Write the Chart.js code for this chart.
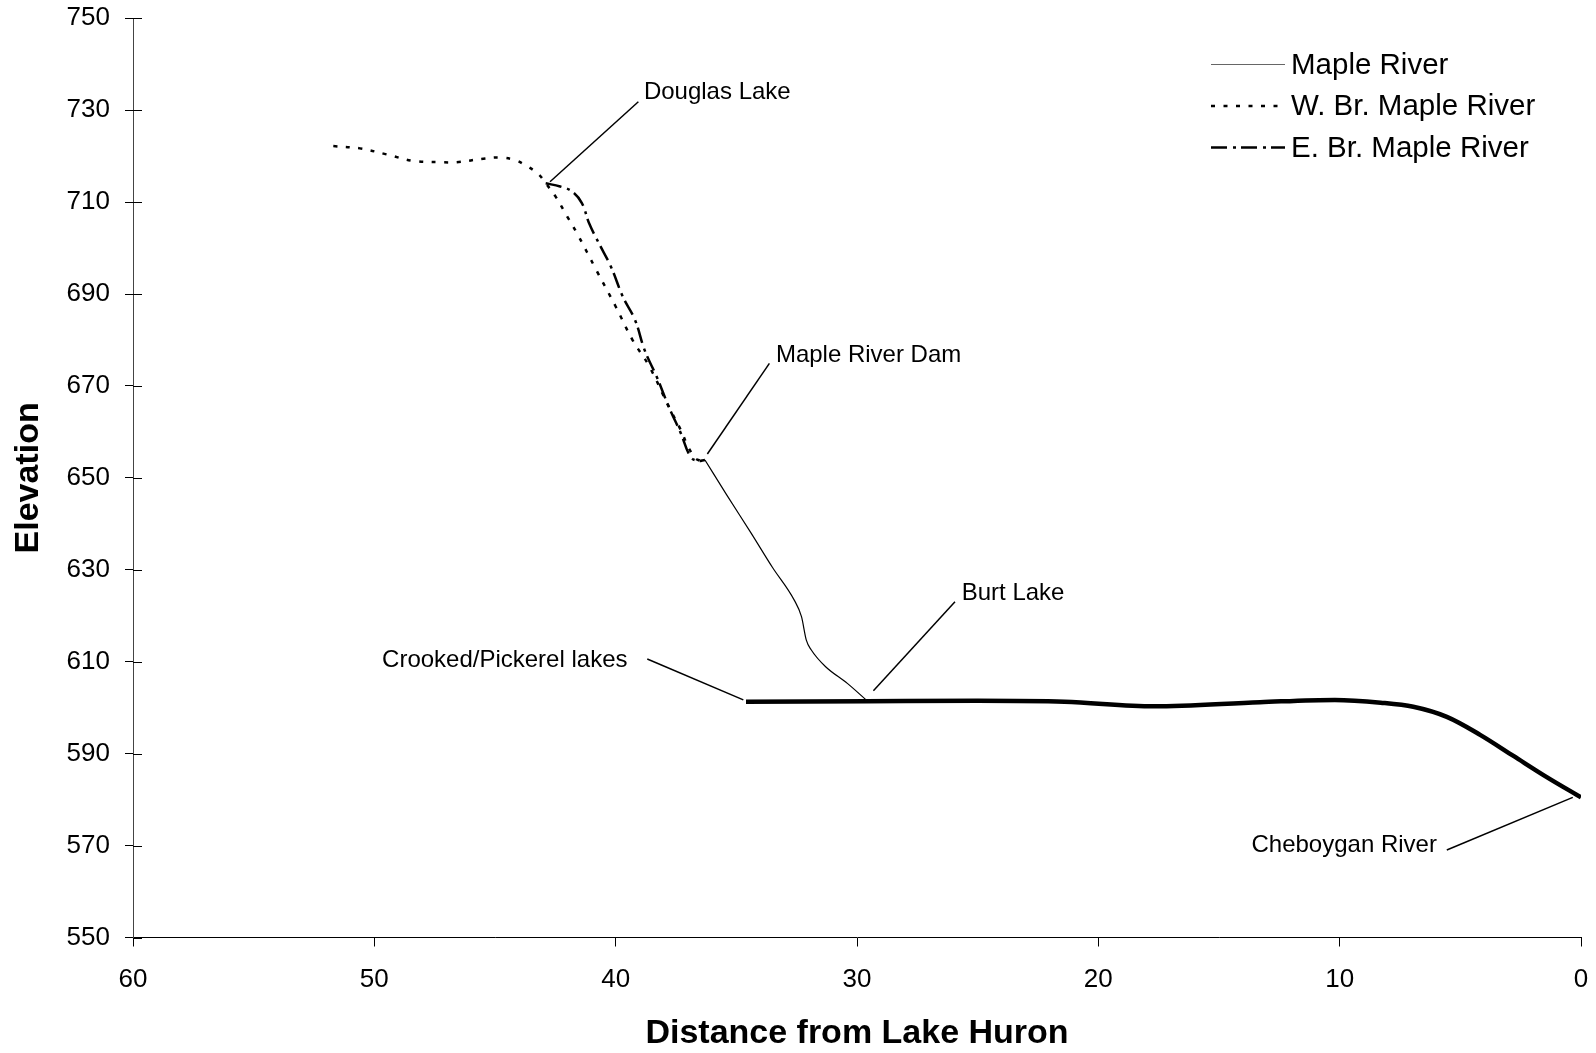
<!DOCTYPE html>
<html>
<head>
<meta charset="utf-8">
<script src="https://cdn.jsdelivr.net/npm/chart.js@4/dist/chart.umd.min.js"></script>
<style>
  body { margin: 0; background: #fff; }
  #wrap { width: 1596px; height: 1053px; }
</style>
</head>
<body>
<div id="wrap"><canvas id="profile" width="1596" height="1053"></canvas></div>
<script>
// distance from Lake Huron (miles) and elevation (ft)
const wBranchMiles = [51.7, 50.6, 49.5, 48.4, 47.3, 46.6, 45.4, 44.8, 44.2, 43.7, 43.2, 42.9, 42.5, 42.0, 41.6, 40.8, 40.0, 39.3, 38.6, 37.8, 37.3, 37.0, 36.7, 36.5];
const wBranchElev  = [722.2, 721.7, 720.4, 719.0, 718.7, 718.7, 719.5, 719.7, 719.2, 717.9, 716.1, 714.1, 711.3, 706.8, 703.2, 695.2, 687.3, 680.0, 674.2, 665.5, 660.4, 656.8, 654.3, 653.7];

const eBranchMiles = [42.9, 42.3, 41.8, 41.4, 41.1, 40.7, 40.2, 39.7, 39.2, 38.8, 38.3, 37.8, 37.3, 36.9, 36.6, 36.3];
const eBranchElev  = [714.1, 713.4, 712.3, 709.8, 705.4, 701.1, 696.0, 689.4, 684.4, 677.8, 672.0, 665.5, 659.7, 654.6, 653.7, 653.9];

const mapleMiles = [36.3, 35.4, 34.4, 33.5, 32.6, 32.3, 32.1, 31.9, 31.3, 30.4, 29.6];
const mapleElev  = [653.9, 646.3, 638.1, 630.5, 623.4, 619.8, 614.7, 612.6, 608.9, 605.3, 601.6];

// Crooked/Pickerel lakes -> Burt Lake -> Cheboygan River (thick line, not in legend)
const waterwayMiles = [34.6, 29.6, 25.0, 21.4, 17.7, 13.3, 10.2, 8.3, 6.95, 5.56, 4.18, 2.8, 1.42, 0];
const waterwayElev  = [601.3, 601.4, 601.5, 601.3, 600.3, 601.2, 601.7, 601.1, 600.2, 598.0, 594.1, 589.5, 584.9, 580.5];

const xTicks = [60, 50, 40, 30, 20, 10, 0];
const yTicks = [550, 570, 590, 610, 630, 650, 670, 690, 710, 730, 750];

const legendNames = ['Maple River', 'W. Br. Maple River', 'E. Br. Maple River'];

// callouts: text anchor and leader line ends, in data units
const callouts = [
  { text: 'Douglas Lake', x: 38.83, y: 732.4, align: 'left', line: [39.06, 731.85, 42.72, 714.45] },
  { text: 'Maple River Dam', x: 33.36, y: 675.15, align: 'left', line: [33.63, 674.93, 36.2, 655.2] },
  { text: 'Burt Lake', x: 25.66, y: 623.43, align: 'left', line: [25.94, 623.06, 29.32, 603.7] },
  { text: 'Crooked/Pickerel lakes', x: 39.51, y: 608.92, align: 'right', line: [38.69, 610.6, 34.71, 601.7] },
  { text: 'Cheboygan River', x: 5.97, y: 568.67, align: 'right', line: [5.56, 569.04, 0.34, 580.5] }
];

const toPoints = (xs, ys) => xs.map((x, i) => ({ x: x, y: ys[i] }));

const FONT = "'Liberation Sans', Arial, sans-serif";

// y ticks cross the axis: draw the inner half
const innerTicks = {
  id: 'innerTicks',
  afterDraw(chart) {
    const ctx = chart.ctx;
    const y = chart.scales.y;
    const left = chart.chartArea.left;
    ctx.save();
    ctx.strokeStyle = '#000';
    ctx.lineWidth = 1;
    yTicks.forEach(v => {
      const py = Math.round(y.getPixelForValue(v)) + 0.5;
      ctx.beginPath();
      ctx.moveTo(left, py);
      ctx.lineTo(left + 9, py);
      ctx.stroke();
    });
    ctx.restore();
  }
};

const calloutPlugin = {
  id: 'callouts',
  afterDatasetsDraw(chart) {
    const ctx = chart.ctx;
    const sx = chart.scales.x, sy = chart.scales.y;
    ctx.save();
    ctx.fillStyle = '#000';
    ctx.strokeStyle = '#000';
    ctx.lineWidth = 1.5;
    ctx.font = '24px ' + FONT;
    ctx.textBaseline = 'alphabetic';
    callouts.forEach(c => {
      ctx.textAlign = c.align;
      ctx.fillText(c.text, sx.getPixelForValue(c.x), sy.getPixelForValue(c.y));
      ctx.beginPath();
      ctx.moveTo(sx.getPixelForValue(c.line[0]), sy.getPixelForValue(c.line[1]));
      ctx.lineTo(sx.getPixelForValue(c.line[2]), sy.getPixelForValue(c.line[3]));
      ctx.stroke();
    });
    ctx.restore();
  }
};

const legendPlugin = {
  id: 'sideLegend',
  afterDraw(chart) {
    const ctx = chart.ctx;
    const x0 = 1211, x1 = 1285, rowY = [64.5, 106, 147.5];
    ctx.save();
    ctx.font = '29.5px ' + FONT;
    ctx.textBaseline = 'middle';
    ctx.textAlign = 'left';
    legendNames.forEach((name, i) => {
      const ds = chart.data.datasets.find(d => d.label === name);
      ctx.strokeStyle = name === 'Maple River' ? '#666' : ds.borderColor;
      ctx.lineWidth = ds.borderWidth;
      ctx.setLineDash(ds.borderDash || []);
      ctx.beginPath();
      ctx.moveTo(x0, rowY[i]);
      ctx.lineTo(x1, rowY[i]);
      ctx.stroke();
      ctx.setLineDash([]);
      ctx.fillStyle = '#000';
      ctx.fillText(name, 1291, rowY[i] + 1);
    });
    ctx.restore();
  }
};

const ctx = document.getElementById('profile').getContext('2d');

new Chart(ctx, {
  type: 'line',
  data: {
    datasets: [
      {
        label: 'Inland Waterway',
        data: toPoints(waterwayMiles, waterwayElev),
        borderColor: '#000',
        borderWidth: 4.5,
        pointRadius: 0,
        cubicInterpolationMode: 'monotone'
      },
      {
        label: 'Maple River',
        data: toPoints(mapleMiles, mapleElev),
        borderColor: '#000',
        borderWidth: 1.2,
        pointRadius: 0,
        cubicInterpolationMode: 'monotone'
      },
      {
        label: 'W. Br. Maple River',
        data: toPoints(wBranchMiles, wBranchElev),
        borderColor: '#000',
        borderWidth: 2.5,
        borderDash: [4, 8.5],
        pointRadius: 0,
        tension: 0.4
      },
      {
        label: 'E. Br. Maple River',
        data: toPoints(eBranchMiles, eBranchElev),
        borderColor: '#000',
        borderWidth: 2.5,
        borderDash: [16, 6, 3, 5],
        pointRadius: 0,
        tension: 0.4
      }
    ]
  },
  options: {
    responsive: false,
    animation: false,
    devicePixelRatio: 1,
    layout: { padding: { top: 18.3, right: 15, left: 0, bottom: 0 } },
    plugins: {
      legend: { display: false },
      tooltip: { enabled: false }
    },
    scales: {
      x: {
        type: 'linear',
        reverse: true,
        min: 0,
        max: 60,
        afterBuildTicks: s => { s.ticks = xTicks.map(v => ({ value: v })); },
        afterFit: s => {
          s.height = 115.5;
          s.paddingLeft = 0; s.paddingRight = 0; s.paddingTop = 0; s.paddingBottom = 0;
        },
        grid: { drawOnChartArea: false, tickLength: 9, color: '#000' },
        border: { color: '#000', width: 1 },
        ticks: { color: '#000', padding: 18, maxRotation: 0, font: { family: FONT, size: 26 } },
        title: {
          display: true,
          text: 'Distance from Lake Huron',
          color: '#000',
          font: { family: FONT, size: 34, weight: 'bold', lineHeight: 1 },
          padding: { top: 0, bottom: 2 }
        }
      },
      y: {
        min: 550,
        max: 750,
        afterBuildTicks: s => { s.ticks = yTicks.map(v => ({ value: v })); },
        afterFit: s => {
          s.width = 133;
          s.paddingLeft = 0; s.paddingRight = 0; s.paddingTop = 0; s.paddingBottom = 0;
        },
        grid: { drawOnChartArea: false, tickLength: 8, color: '#000' },
        border: { color: '#444', width: 1 },
        ticks: { color: '#000', padding: 15, font: { family: FONT, size: 26 } },
        title: {
          display: true,
          text: 'Elevation',
          color: '#000',
          font: { family: FONT, size: 34, weight: 'bold', lineHeight: 1 },
          padding: { top: 12, bottom: 0 }
        }
      }
    }
  },
  plugins: [innerTicks, calloutPlugin, legendPlugin]
});
</script>
</body>
</html>
